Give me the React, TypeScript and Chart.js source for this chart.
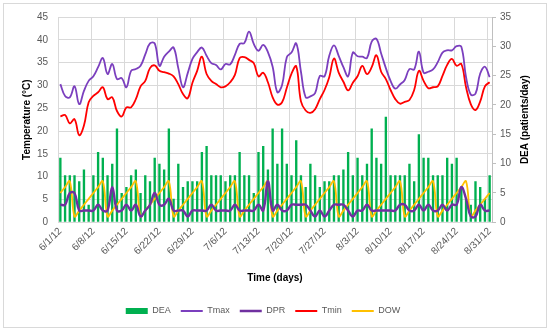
import React, { useEffect, useRef } from 'react';
import { Chart, registerables } from 'chart.js';

Chart.register(...registerables);

const dates = [
  '6/1/12','6/2/12','6/3/12','6/4/12','6/5/12','6/6/12','6/7/12','6/8/12','6/9/12','6/10/12',
  '6/11/12','6/12/12','6/13/12','6/14/12','6/15/12','6/16/12','6/17/12','6/18/12','6/19/12','6/20/12',
  '6/21/12','6/22/12','6/23/12','6/24/12','6/25/12','6/26/12','6/27/12','6/28/12','6/29/12','6/30/12',
  '7/1/12','7/2/12','7/3/12','7/4/12','7/5/12','7/6/12','7/7/12','7/8/12','7/9/12','7/10/12',
  '7/11/12','7/12/12','7/13/12','7/14/12','7/15/12','7/16/12','7/17/12','7/18/12','7/19/12','7/20/12',
  '7/21/12','7/22/12','7/23/12','7/24/12','7/25/12','7/26/12','7/27/12','7/28/12','7/29/12','7/30/12','7/31/12',
  '8/1/12','8/2/12','8/3/12','8/4/12','8/5/12','8/6/12','8/7/12','8/8/12','8/9/12','8/10/12',
  '8/11/12','8/12/12','8/13/12','8/14/12','8/15/12','8/16/12','8/17/12','8/18/12','8/19/12','8/20/12',
  '8/21/12','8/22/12','8/23/12','8/24/12','8/25/12','8/26/12','8/27/12','8/28/12','8/29/12','8/30/12','8/31/12',
];

const dea = [
  11, 8, 8, 8, 7, 9, 3, 8, 12, 11, 8, 10, 16, 5, 6, 8, 9, 5, 8,
  7, 11, 10, 9, 16, 4, 10, 6, 7, 7, 7, 12, 13, 8, 8, 8, 7, 8, 8,
  12, 8, 8, 5, 12, 13, 9, 16, 10, 16, 10, 8, 14, 8, 6, 10, 8, 6, 7,
  7, 8, 8, 9, 12, 8, 11, 8, 10, 16, 11, 10, 18, 8, 8, 8, 8, 10, 7,
  15, 11, 11, 8, 8, 8, 11, 10, 11, 6, 4, 3, 7, 6, 4, 8,
];

const tmax = [
  30.3, 27.7, 27.4, 29.8, 25.9, 28.8, 31.0, 32.0, 34.0, 36.0,
  32.5, 34.7, 31.4, 31.6, 29.6, 33.2, 33.6, 34.3, 36.8, 39.2,
  39.2, 34.3, 36.3, 37.4, 38.3, 33.8, 29.6, 32.7, 35.8, 37.3,
  38.3, 36.5, 34.9, 34.5, 33.5, 34.7, 34.6, 36.7, 39.1, 39.3,
  41.8, 39.1, 37.6, 38.9, 37.3, 34.1, 28.5, 30.1, 36.2, 37.2,
  39.2, 33.0, 27.4, 27.6, 28.3, 32.1, 32.0, 36.5, 38.8, 36.5,
  34.0, 32.0, 37.2, 36.4, 36.3, 36.0, 39.6, 40.2, 37.0, 33.8,
  31.0, 29.3, 30.2, 31.2, 33.6, 33.5, 37.4, 32.8, 33.0, 33.5,
  35.1, 37.2, 37.7, 37.7, 38.6, 38.5, 31.8, 28.0, 28.2, 32.6,
  34.1, 31.8,
];

const tmin = [
  23.2, 23.5, 21.7, 22.6, 19.1, 21.2, 26.3, 27.7, 28.5, 29.6,
  27.0, 27.4, 24.4, 23.2, 25.2, 25.2, 27.0, 29.8, 31.0, 33.8,
  34.4, 33.2, 32.9, 32.6, 32.0, 30.3, 28.1, 27.2, 30.6, 33.2,
  36.3, 32.5, 31.0, 30.3, 29.6, 29.8, 30.7, 32.3, 36.0, 36.2,
  35.6, 34.9, 32.0, 32.8, 30.7, 27.4, 25.8, 26.3, 29.5, 32.6,
  34.2, 26.5, 24.5, 24.0, 24.8, 27.0, 29.0, 31.8, 35.9, 32.8,
  30.8, 28.9, 30.6, 32.0, 34.3, 32.5, 34.0, 36.6, 33.0, 31.4,
  29.0, 27.0, 26.0, 26.4, 26.8, 29.0, 33.2, 31.0, 29.4, 29.6,
  29.8, 32.1, 34.5, 35.8, 34.3, 34.7, 29.6, 25.9, 24.6, 26.5,
  29.8, 30.7,
];

const dpr = [
  3, 3, 5, 5, 2, 2, 2, 2, 3, 2,
  2, 6, 2, 2, 3, 2, 3, 1, 2, 3,
  5, 3, 3, 4, 2, 2, 2, 1, 2, 2,
  2, 2, 3, 2, 2, 2, 2, 3, 2, 2,
  2, 2, 3, 2, 7, 2, 3, 2, 2, 3,
  3, 3, 3, 2, 1, 2, 1, 2, 3, 3,
  3, 2, 1, 2, 2, 3, 2, 2, 2, 2,
  2, 2, 3, 3, 2, 2, 3, 2, 3, 2,
  2, 3, 2, 3, 3, 6, 4, 1, 1, 3,
  2, 2,
];

const dow = [
  5, 6, 7, 1, 2, 3, 4, 5, 6, 7, 1, 2, 3, 4,
  5, 6, 7, 1, 2, 3, 4, 5, 6, 7, 1, 2, 3, 4,
  5, 6, 7, 1, 2, 3, 4, 5, 6, 7, 1, 2, 3, 4,
  5, 6, 7, 1, 2, 3, 4, 5, 6, 7, 1, 2, 3, 4,
  5, 6, 7, 1, 2, 3, 4, 5, 6, 7, 1, 2, 3, 4,
  5, 6, 7, 1, 2, 3, 4, 5, 6, 7, 1, 2, 3, 4,
  5, 6, 7, 1, 2, 3, 4, 5,
];

const leftTicks = { min: 0, max: 45, step: 5 };
const rightTicks = { min: 0, max: 35, step: 5 };

const FONT = "'Liberation Sans', Arial, sans-serif";
const GRID = '#D9D9D9';
const TXT = '#595959';

const framePlugin = {
  id: 'frame',
  beforeDraw(chart: any) {
    const ctx = chart.ctx;
    ctx.save();
    ctx.fillStyle = '#ffffff';
    ctx.fillRect(0, 0, chart.width, chart.height);
    ctx.strokeStyle = '#D9D9D9';
    ctx.lineWidth = 1;
    ctx.strokeRect(3.5, 3.5, 543, 324);
    ctx.restore();
  },
  afterDraw(chart: any) {
    const ctx = chart.ctx;
    const a = chart.chartArea;
    ctx.save();
    ctx.translate(525, (a.top + a.bottom) / 2);
    ctx.rotate(-Math.PI / 2);
    ctx.textAlign = 'center';
    ctx.textBaseline = 'middle';
    ctx.fillStyle = '#000000';
    ctx.font = `bold 10px ${FONT}`;
    ctx.fillText('DEA (patients/day)', 0, 0);
    ctx.restore();
  },
};

export default function App() {
  const ref = useRef<HTMLCanvasElement | null>(null);

  useEffect(() => {
    document.body.style.margin = '0';
    const canvas = ref.current;
    if (!canvas) return;
    const chart = new Chart(canvas, {
      type: 'bar',
      data: {
        labels: dates,
        datasets: [
          {
            type: 'bar',
            label: 'DEA',
            data: dea,
            yAxisID: 'y1',
            backgroundColor: '#00B050',
            borderColor: '#00B050',
            borderWidth: 0,
            barPercentage: 0.5,
            categoryPercentage: 1,
            order: 10,
          } as any,
          {
            type: 'line',
            label: 'Tmax',
            data: tmax,
            yAxisID: 'y',
            borderColor: '#7B3FBE',
            backgroundColor: '#7B3FBE',
            borderWidth: 1.8,
            pointRadius: 0,
            tension: 0.4,
            fill: false,
            order: 1,
          },
          {
            type: 'line',
            label: 'DPR',
            data: dpr,
            yAxisID: 'y1',
            borderColor: '#7030A0',
            backgroundColor: '#7030A0',
            borderWidth: 2.4,
            pointRadius: 0,
            tension: 0.4,
            fill: false,
            order: 3,
          },
          {
            type: 'line',
            label: 'Tmin',
            data: tmin,
            yAxisID: 'y',
            borderColor: '#FF0000',
            backgroundColor: '#FF0000',
            borderWidth: 1.8,
            pointRadius: 0,
            tension: 0.4,
            fill: false,
            order: 2,
          },
          {
            type: 'line',
            label: 'DOW',
            data: dow,
            yAxisID: 'y1',
            borderColor: '#FFC000',
            backgroundColor: '#FFC000',
            borderWidth: 1.8,
            pointRadius: 0,
            tension: 0.4,
            fill: false,
            order: 4,
          },
        ],
      },
      options: {
        responsive: false,
        animation: false,
        devicePixelRatio: 1,
        layout: { padding: { left: 3, right: 27, top: 17, bottom: 7.5 } },
        plugins: {
          tooltip: { enabled: false },
          legend: {
            position: 'bottom',
            labels: {
              usePointStyle: true,
              pointStyleWidth: 22,
              boxHeight: 6,
              padding: 10,
              color: TXT,
              font: { family: FONT, size: 9 },
              sort: (a: any, b: any) => a.datasetIndex - b.datasetIndex,
              generateLabels: (c: any) => {
                const items = (Chart.defaults.plugins.legend.labels as any).generateLabels(c);
                return items.map((it: any) => {
                  const isBar = it.datasetIndex === 0;
                  return {
                    ...it,
                    pointStyle: isBar ? 'rect' : 'line',
                    lineWidth: isBar ? 0 : it.lineWidth,
                    fillStyle: isBar ? '#00B050' : it.fillStyle,
                    fontColor: TXT,
                  };
                });
              },
            },
          },
        },
        scales: {
          x: {
            type: 'category',
            offset: true,
            grid: {
              offset: true,
              drawTicks: false,
              color: (c: any) => (c.index !== undefined && c.index % 7 === 0 ? GRID : 'rgba(0,0,0,0)'),
            },
            border: { display: true, color: GRID },
            ticks: {
              autoSkip: false,
              maxRotation: 45,
              minRotation: 45,
              padding: 3,
              color: TXT,
              font: { family: FONT, size: 10 },
              callback: function (this: any, val: any, idx: number) {
                return idx % 7 === 0 ? this.getLabelForValue(val) : '';
              },
            },
            title: {
              display: true,
              text: 'Time (days)',
              color: '#000000',
              font: { family: FONT, size: 10, weight: 'bold' },
              padding: { top: 4, bottom: 12.5 },
            },
            afterFit: (s: any) => {
              s.height = 74.2;
            },
          },
          y: {
            position: 'left',
            min: leftTicks.min,
            max: leftTicks.max,
            ticks: { stepSize: leftTicks.step, padding: 10, color: TXT, font: { family: FONT, size: 10 } },
            grid: { color: GRID, drawTicks: false },
            border: { display: false },
            title: {
              display: true,
              text: 'Temperature (°C)',
              color: '#000000',
              font: { family: FONT, size: 10, weight: 'bold' },
              padding: { top: 18, bottom: 0 },
            },
            afterFit: (s: any) => {
              s.width = 55;
            },
          },
          y1: {
            position: 'right',
            min: rightTicks.min,
            max: rightTicks.max,
            ticks: { stepSize: rightTicks.step, padding: 4, color: TXT, font: { family: FONT, size: 10 } },
            grid: { drawOnChartArea: false, drawTicks: true, tickLength: 4, color: '#BFBFBF' },
            border: { display: true, color: '#BFBFBF' },
            afterFit: (s: any) => {
              s.width = 31;
            },
          },
        },
      } as any,
      plugins: [framePlugin],
    });
    return () => chart.destroy();
  }, []);

  return (
    <div style={{ width: 550, height: 333 }}>
      <canvas ref={ref} width={550} height={333} style={{ display: 'block' }} />
    </div>
  );
}
